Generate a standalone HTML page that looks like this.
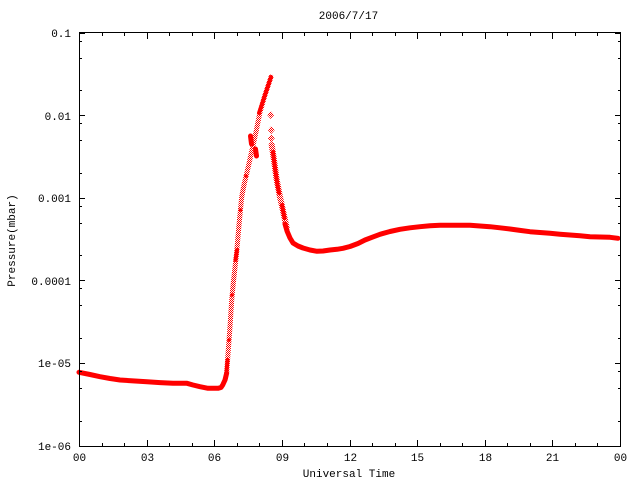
<!DOCTYPE html>
<html><head><meta charset="utf-8"><style>
html,body{margin:0;padding:0;background:#fff;}
svg{display:block;}
text{font-family:"Liberation Mono",monospace;font-size:11px;fill:#000;}
</style></head><body>
<svg width="640" height="480" viewBox="0 0 640 480" xmlns="http://www.w3.org/2000/svg">
<defs>
<pattern id="chk" width="2" height="2" patternUnits="userSpaceOnUse">
<rect x="0" y="0" width="1" height="1" fill="#ff0000"/>
<rect x="1" y="1" width="1" height="1" fill="#ff0000"/>
</pattern>
</defs>
<rect width="640" height="480" fill="#fff"/>

<!-- data -->
<g fill="none" stroke-linejoin="round" stroke-linecap="round">
<polyline stroke="#ff0000" stroke-width="5" points="79,372.3 90,374.5 100,376.7 110,378.5 120,380 135,381 147,381.7 160,382.6 173,383.3 187,383.3 193,385 200,386.7 208,388.3 218,388.3 221,387.5 222.7,385 225,380 226.7,373"/>
<polyline stroke="url(#chk)" stroke-width="5" points="226.7,372 228.3,350 230,327 231.7,300 233.3,283 236.7,252 239,225 241.7,197 244,185 248,168 252,150 256,132 260,112 265,95 271,77"/>
<polyline stroke="#ff0000" stroke-width="4" points="226,378 227.5,360"/>
<polyline stroke="#ff0000" stroke-width="4" points="235.5,260 237,250"/>
<polyline stroke="#ff0000" stroke-width="4" points="259,113 262,104 266,92 271,77"/>
<polyline stroke="#ff0000" stroke-width="5" points="250.5,136 251.5,144"/>
<polyline stroke="#ff0000" stroke-width="5" points="255.5,149 256.5,156"/>
<polyline stroke="url(#chk)" stroke-width="6" points="271.7,145 274,160 276.7,180 280,197 283.3,212 286.7,228"/>
<polyline stroke="#ff0000" stroke-width="4" points="273,152 275,168 277.5,185 279,193"/>
<polyline stroke="#ff0000" stroke-width="4" points="282,205 284.5,218"/>
<polyline stroke="#ff0000" stroke-width="5" points="285,224 287,231 290,238 293,243 298,246 303,248 310,250 317,251.3 323,251 330,250 337,249.3 343,248.3 350,246.5 358,243.5 365,240 372,237.3 380,234.3 390,231.5 400,229.3 410,227.8 420,226.7 430,225.8 440,225.3 455,225.2 470,225.3 480,226 490,226.7 500,227.8 510,229 520,230.4 530,231.7 540,232.5 550,233.3 560,234.2 570,235 580,235.8 590,236.7 600,237 610,237.3 618,238.3"/>
</g>
<g fill="#ff0000">
<circle cx="229" cy="340" r="1.8"/>
<circle cx="232" cy="295" r="1.8"/>
<circle cx="240.5" cy="210" r="1.8"/>
<circle cx="246" cy="176" r="1.8"/>
</g>
<g fill="url(#chk)">
<polygon points="270.7,111 274.2,115 270.7,119 267.2,115"/>
<polygon points="271.3,126 274.8,130 271.3,134 267.8,130"/>
<polygon points="271.3,134.3 274.8,138.3 271.3,142.3 267.8,138.3"/>
</g>

<!-- frame -->
<g stroke="#000" stroke-width="1" fill="none" shape-rendering="crispEdges">
<rect x="79.5" y="32.5" width="541" height="414"/>
<path d="M79 33.5h6M79 115.5h6M79 198.5h6M79 280.5h6M79 363.5h6
M621 33.5h-6M621 115.5h-6M621 198.5h-6M621 280.5h-6M621 363.5h-6"/>
<path d="M79 41.5h3M79 58.5h3M79 90.5h3M79 123.5h3M79 140.5h3M79 173.5h3M79 206.5h3M79 223.5h3M79 255.5h3M79 288.5h3M79 305.5h3M79 338.5h3M79 371.5h3M79 388.5h3M79 421.5h3
M621 41.5h-3M621 58.5h-3M621 90.5h-3M621 123.5h-3M621 140.5h-3M621 173.5h-3M621 206.5h-3M621 223.5h-3M621 255.5h-3M621 288.5h-3M621 305.5h-3M621 338.5h-3M621 371.5h-3M621 388.5h-3M621 421.5h-3"/>
<path d="M147.5 446v-6M214.5 446v-6M282.5 446v-6M350.5 446v-6M417.5 446v-6M485.5 446v-6M552.5 446v-6
M147.5 33v6M214.5 33v6M282.5 33v6M350.5 33v6M417.5 33v6M485.5 33v6M552.5 33v6"/>
<path d="M102.5 446v-3M124.5 446v-3M169.5 446v-3M192.5 446v-3M237.5 446v-3M259.5 446v-3M304.5 446v-3M327.5 446v-3M372.5 446v-3M395.5 446v-3M440.5 446v-3M462.5 446v-3M507.5 446v-3M530.5 446v-3M575.5 446v-3M597.5 446v-3
M102.5 33v3M124.5 33v3M169.5 33v3M192.5 33v3M237.5 33v3M259.5 33v3M304.5 33v3M327.5 33v3M372.5 33v3M395.5 33v3M440.5 33v3M462.5 33v3M507.5 33v3M530.5 33v3M575.5 33v3M597.5 33v3"/>
</g>

<g text-anchor="end">
<text x="71" y="37">0.1</text>
<text x="71" y="120">0.01</text>
<text x="71" y="202">0.001</text>
<text x="71" y="285">0.0001</text>
<text x="71" y="367">1e-05</text>
<text x="71" y="450">1e-06</text>
</g>
<g text-anchor="middle">
<text x="79.5" y="461">00</text>
<text x="147.5" y="461">03</text>
<text x="214.5" y="461">06</text>
<text x="282.5" y="461">09</text>
<text x="350.5" y="461">12</text>
<text x="417.5" y="461">15</text>
<text x="485.5" y="461">18</text>
<text x="552.5" y="461">21</text>
<text x="620.5" y="461">00</text>
<text x="348.5" y="19">2006/7/17</text>
<text x="349" y="477">Universal Time</text>
<text transform="translate(15,240.5) rotate(-90)">Pressure(mbar)</text>
</g>
</svg>
</body></html>
